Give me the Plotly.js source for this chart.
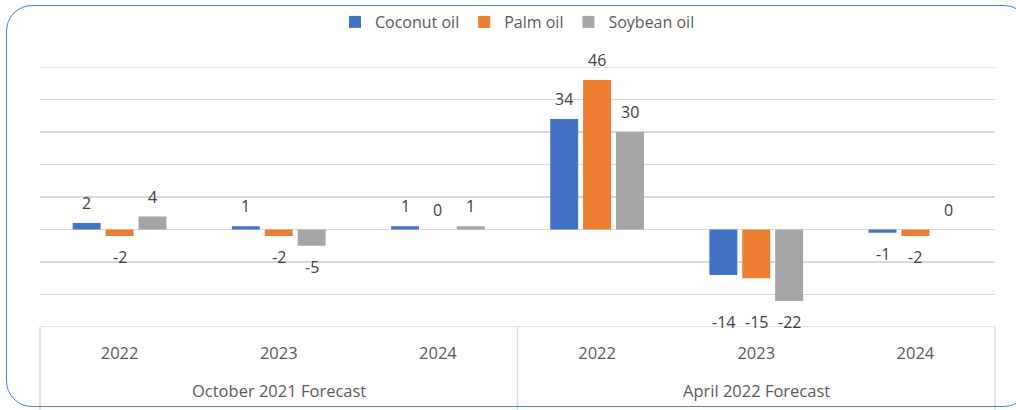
<!DOCTYPE html>
<html>
<head>
<meta charset="utf-8">
<script src="https://cdn.plot.ly/plotly-3.0.1.min.js"></script>
<style>
  html, body { margin: 0; padding: 0; background: #ffffff; overflow: hidden; }
  #wrap { position: relative; width: 1016px; height: 410px; overflow: hidden; }
  #frame { position: absolute; left: 6px; top: 5px; width: 1024px; height: 402px;
           border: 1.5px solid #4a7fd4; border-radius: 26px; box-sizing: border-box; pointer-events: none; z-index: 5; }
  #chart { position: absolute; left: 0; top: 0; width: 1016px; height: 410px; }
</style>
</head>
<body>
<div id="wrap">
  <div id="chart"></div>
  <div id="frame"></div>
</div>
<script>
const forecasts = ['October 2021 Forecast', 'October 2021 Forecast', 'October 2021 Forecast',
                   'April 2022 Forecast', 'April 2022 Forecast', 'April 2022 Forecast'];
const years = ['2022', '2023', '2024', '2022', '2023', '2024'];
const forecastGroups = ['October 2021 Forecast', 'April 2022 Forecast'];

const coconutOil = [2, 1, 1, 34, -14, -1];
const palmOil = [-2, -2, 0, 46, -15, -2];
const soybeanOil = [4, -5, 1, 30, -22, 0];

const seriesNames = ['Coconut oil', 'Palm oil', 'Soybean oil'];
const seriesValues = [coconutOil, palmOil, soybeanOil];
const seriesColors = ['#4472c4', '#ed7d31', '#a5a5a5'];

const font = 'Open Sans, Noto Sans, sans-serif';
const bargap = 0.38;
const nCat = years.length;
const catIdx = years.map((_, i) => i);
const yMin = -30, yMax = 50;

const traces = seriesNames.map((name, i) => ({
  type: 'bar',
  name: name,
  x: [forecasts, years],
  y: seriesValues[i],
  marker: { color: seriesColors[i] },
  hoverinfo: 'skip'
}));

// position helpers (paper coords: plot area starts at top margin, bottom margin 0)
const H = 410, T = 67;
const plotBottomPx = 327;
const paperH = H - T;
const yDomainBottom = (H - plotBottomPx) / paperH;

// data labels placed through the overlay linear axis (x2) and the value axis
const slot = (1 - bargap) / seriesNames.length;
const annotations = [];
seriesValues.forEach((vals, k) => {
  vals.forEach((v, i) => {
    const groupVals = seriesValues.map(s => s[i]);
    const allNeg = groupVals.every(g => g < 0);
    const yPos = (v < 0 && allNeg) ? Math.min(...groupVals) : v;
    annotations.push({
      xref: 'x2', yref: 'y',
      x: i + (k - (seriesNames.length - 1) / 2) * slot,
      y: yPos,
      text: String(v),
      showarrow: false,
      yshift: v < 0 ? -21 : 20,
      font: { family: font, size: 16, color: '#404040' }
    });
  });
});
// outer category row (forecast groups), centred under their years
forecastGroups.forEach(g => {
  const idx = catIdx.filter(i => forecasts[i] === g);
  annotations.push({
    xref: 'x2', yref: 'paper',
    x: idx.reduce((a, b) => a + b, 0) / idx.length,
    y: (H - 390) / paperH, yanchor: 'middle',
    text: g, showarrow: false,
    font: { family: font, size: 16.5, color: '#595959' }
  });
});

const shapes = [0, 0.5, 1].map(xp => ({
  type: 'line', xref: 'paper', yref: 'paper',
  x0: xp, x1: xp, y0: yDomainBottom, y1: 0,
  line: { color: '#d9d9d9', width: 1.5 }
}));
[yMin, yMax].forEach(v => shapes.push({
  type: 'line', xref: 'paper', yref: 'y', x0: 0, x1: 1, y0: v, y1: v,
  line: { color: '#d9d9d9', width: 1.5 }, layer: 'below'
}));

const layout = {
  width: 1016,
  height: 410,
  margin: { l: 40, r: 21, t: T, b: 0 },
  paper_bgcolor: '#ffffff',
  plot_bgcolor: '#ffffff',
  barmode: 'group',
  bargap: bargap,
  bargroupgap: 0.15,
  showlegend: true,
  legend: {
    orientation: 'h', x: 0.5, xanchor: 'center', y: (H - 22) / paperH, yanchor: 'middle',
    font: { family: font, size: 16, color: '#595959' },
    itemwidth: 30, traceorder: 'normal'
  },
  xaxis: {
    type: 'multicategory',
    range: [-0.5, nCat - 0.5],
    showticklabels: false,
    showdividers: false,
    showgrid: false,
    showline: false,
    ticks: '',
    zeroline: false
  },
  xaxis2: {
    type: 'linear',
    overlaying: 'x',
    anchor: 'free',
    position: (H - 341) / paperH,
    side: 'bottom',
    range: [-0.5, nCat - 0.5],
    tickmode: 'array',
    tickvals: catIdx,
    ticktext: years,
    tickfont: { family: font, size: 16.5, color: '#595959' },
    showgrid: false, zeroline: false, showline: false, ticks: ''
  },
  yaxis: {
    domain: [yDomainBottom, 1],
    range: [yMin, yMax],
    tickmode: 'linear',
    tick0: 0,
    dtick: 10,
    showticklabels: false,
    showgrid: true,
    gridcolor: '#d9d9d9',
    gridwidth: 1.5,
    zeroline: true,
    zerolinecolor: '#d9d9d9',
    zerolinewidth: 1.5,
    fixedrange: true
  },
  shapes: shapes,
  annotations: annotations,
  font: { family: font }
};

Plotly.newPlot('chart', traces, layout, { displayModeBar: false, staticPlot: true });
</script>
</body>
</html>
